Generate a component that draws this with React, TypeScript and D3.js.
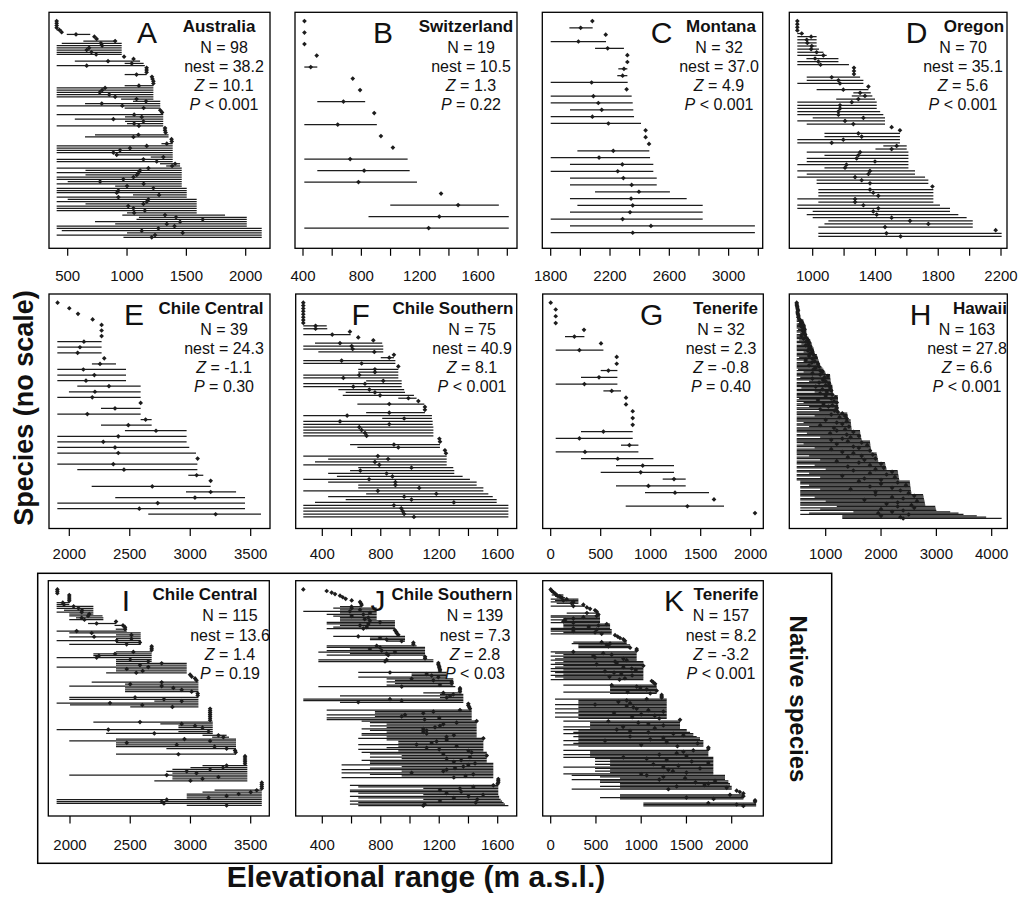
import React from 'react';
import * as d3 from 'd3';

// species elevational ranges, top row first: [min, max, mid] or [single elevation]
const australia = [
  [407], [407], [407], [407], [407, 449, 430], [449], [492, 690, 570], [725], [744], [632, 905, 900],
  [450, 955, 780], [407, 955, 790], [407, 955, 680], [407, 955, 660], [407, 955, 700], [407, 955, 740], [975], [1055], [560, 1110, 840], [980, 1140, 1040],
  [407, 1150, 660], [1165], [1165], [1165], [980, 1165, 1080], [1210], [1215], [1222], [1222], [980, 1222, 1100],
  [407, 1222, 815], [407, 1222, 790], [407, 1222, 770], [407, 1222, 850], [407, 1222, 900], [950, 1222, 1080], [1050, 1280, 1160], [646, 1280, 787], [407, 1280, 960], [980, 1280, 1140],
  [1280], [1295], [407, 1305, 1060], [983, 1305, 1124], [560, 1305, 885], [983, 1305, 1138], [1000, 1305, 1060], [407, 1305, 1100], [1320], [1320],
  [1325], [730, 1350, 1096], [646, 1350, 1054], [1375], [1377], [1290, 1385, 1335], [407, 1385, 1166], [407, 1385, 1025], [407, 1385, 941], [407, 1385, 885],
  [900, 1385, 913], [1200, 1385, 1306], [407, 1385, 1138], [407, 1385, 1250], [1278, 1447, 1405], [1330, 1447, 1380], [407, 1461, 1180], [650, 1461, 1110], [407, 1461, 1096], [650, 1461, 1082],
  [407, 1461, 1054], [407, 1461, 969], [500, 1461, 773], [407, 1461, 1140], [900, 1461, 1000], [407, 1503, 1222], [407, 1503, 927], [407, 1503, 913], [1050, 1503, 1270], [407, 1503, 927],
  [500, 1587, 1180], [407, 1587, 1166], [650, 1587, 1138], [407, 1587, 1010], [407, 1587, 1054], [407, 1587, 1150], [1000, 1587, 1060], [960, 1826, 1320], [1100, 2009, 1413], [1080, 2009, 1638],
  [730, 2009, 1447], [900, 2009, 1335], [407, 2009, 1400], [407, 2135, 1264], [450, 2135, 1124], [1000, 2135, 1469], [407, 2135, 1236], [970, 2135, 1208],
];

const switzerland = [
  [410], [410], [410], [494], [409, 498, 453], [741], [791], [498, 826, 677], [888], [409, 906, 638],
  [934], [1016], [409, 1117, 723], [498, 1131, 819], [409, 1181, 780], [1346], [998, 1742, 1463], [849, 1810, 1334], [409, 1810, 1261],
];

const montana = [
  [2081], [1926, 2083, 2002], [2171], [1800, 2173, 1987], [2099, 2294, 2184], [2317], [2317], [2256, 2317, 2294], [2249, 2317, 2285], [1800, 2319, 2076],
  [2312], [1800, 2346, 2088], [1800, 2353, 2121], [1930, 2357, 2144], [1800, 2362, 2081], [1800, 2409, 2189], [2440], [2440], [2463], [1980, 2465, 2222],
  [1800, 2470, 2126], [1930, 2492, 2283], [1800, 2492, 2252], [1930, 2515, 2290], [1930, 2515, 2346], [2099, 2604, 2395], [1930, 2717, 2342], [1980, 2825, 2353], [1930, 2825, 2335], [1800, 2825, 2285],
  [1930, 3177, 2476], [1800, 3177, 2353],
];

const oregon = [
  [902], [902], [902], [902], [902, 940, 930], [902, 1025, 990], [902, 1025, 962], [902, 1025, 966], [902, 1025, 994], [902, 1040, 990],
  [902, 1068, 1025], [902, 1089, 1068], [960, 1164, 1015], [902, 1164, 1036], [902, 1231, 1050], [1263], [1263], [1263], [962, 1302, 1121], [962, 1323, 1164],
  [902, 1323, 1174], [1355], [1025, 1355, 1195], [1259, 1370, 1302], [1249, 1380, 1333], [1150, 1397, 1291], [902, 1408, 1249], [902, 1408, 1174], [902, 1408, 1174], [902, 1430, 1164],
  [902, 1450, 1164], [1000, 1461, 1323], [902, 1461, 1206], [962, 1461, 1259], [1503], [1556], [1075, 1556, 1291], [1075, 1556, 1312], [902, 1556, 1195], [902, 1556, 1121],
  [1450, 1599, 1535], [1400, 1599, 1503], [962, 1610, 1302], [1075, 1610, 1291], [962, 1610, 1280], [962, 1610, 1397], [902, 1610, 1215], [1075, 1610, 1206], [902, 1652, 1365], [962, 1652, 1355],
  [902, 1716, 1270], [1025, 1737, 1312], [1025, 1737, 1365], [1763], [1036, 1769, 1365], [1036, 1769, 1386], [1036, 1769, 1418], [902, 1769, 1270], [1036, 1769, 1270], [902, 1811, 1323],
  [902, 1875, 1418], [1000, 1875, 1386], [962, 1928, 1408], [1000, 1981, 1503], [1100, 2020, 1620], [1075, 2020, 1737], [1036, 2020, 1461], [2166], [1036, 2204, 1470], [1036, 2204, 1560],
];

const chileCentral = [
  [1903], [2000], [2072], [2193], [2267], [2267], [2267], [1901, 2267, 2121], [1901, 2267, 2088], [1901, 2267, 2069],
  [2289], [2187, 2386, 2254], [1901, 2469, 2116], [1901, 2469, 2207], [1901, 2469, 2138], [2066, 2590, 2328], [1997, 2590, 2212], [1901, 2590, 2190], [2590], [2262, 2590, 2378],
  [1901, 2590, 2149], [2590, 2681, 2631], [2262, 2681, 2488], [2460, 2970, 2717], [1901, 2970, 2405], [1901, 2970, 2281], [1901, 2992, 2378], [1901, 3048, 2405], [3061], [1901, 3059, 2364],
  [2066, 3059, 2452], [2984, 3108, 3053], [3169], [2185, 3169, 2686], [2965, 3379, 3169], [2380, 3453, 3039], [1901, 3453, 2731], [1901, 3453, 2579], [2653, 3585, 3210],
];

const chileSouthern = [
  [270], [270], [270], [270], [270], [270], [270], [270], [270, 430, 354], [270, 434, 354],
  [589], [270, 594, 468], [646], [749], [350, 810, 521], [270, 817, 601], [270, 817, 608], [373, 817, 756], [890], [800, 890, 858],
  [270, 900, 532], [270, 900, 669], [920], [646, 920, 760], [646, 920, 760], [270, 920, 653], [270, 920, 544], [700, 943, 817], [270, 943, 692], [270, 943, 612],
  [510, 960, 722], [560, 966, 760], [540, 1027, 795], [920, 1045, 989], [1057], [640, 1098, 858], [1102], [1102], [700, 1102, 858], [270, 1150, 570],
  [810, 1150, 960], [270, 1155, 521], [270, 1155, 858], [270, 1160, 653], [270, 1160, 669], [270, 1160, 692], [270, 1160, 703], [1201], [1205], [590, 1205, 890],
  [640, 1205, 920], [1239], [1246], [270, 1251, 780], [440, 1251, 850], [350, 1251, 760], [270, 1251, 790], [646, 1296, 1010], [590, 1303, 660], [440, 1303, 840],
  [500, 1360, 880], [270, 1410, 720], [440, 1456, 900], [646, 1456, 900], [646, 1502, 1063], [270, 1502, 780], [700, 1536, 1180], [440, 1566, 960], [560, 1593, 1010], [350, 1593, 1300],
  [270, 1673, 890], [270, 1673, 940], [270, 1673, 950], [270, 1673, 960], [270, 1673, 1027],
];

const tenerife = [
  [0], [50], [50], [50], [333], [143, 337, 237], [503], [50, 527, 287], [660], [660],
  [500, 667, 577], [303, 667, 483], [50, 667, 337], [527, 703, 610], [753], [753], [820], [820], [820], [303, 820, 527],
  [50, 820, 287], [703, 877, 787], [50, 877, 343], [303, 1027, 670], [653, 1233, 920], [500, 1233, 900], [1120, 1350, 1233], [653, 1350, 977], [943, 1583, 1243], [1633],
  [750, 1733, 1367], [2043],
];

const hawaii = [
  [476], [476], [480], [485], [488], [495], [500], [476, 505, 490], [476, 510, 495], [476, 515, 500], [500, 520, 510], [476, 530, 505], [490, 540, 520],
  [476, 596, 530], [476, 600, 560], [520, 610, 570], [476, 620, 540], [476, 630, 600],
  [476, 640, 560], [476, 640, 600], [500, 645, 620], [476, 650, 580], [476, 650, 610], [540, 655, 600], [476, 660, 630], [476, 660, 560],
  [476, 690, 640], [476, 700, 600], [520, 720, 680], [476, 730, 650], [476, 740, 700], [560, 750, 690], [476, 755, 640], [476, 760, 720],
  [476, 780, 700], [476, 785, 740], [476, 790, 680], [600, 795, 760], [476, 800, 720],
  [476, 840, 780], [476, 845, 700], [520, 850, 820], [476, 860, 760], [476, 870, 640], [600, 880, 800], [476, 885, 750], [476, 895, 860], [476, 900, 700],
  [476, 920, 880], [476, 940, 820], [500, 960, 780], [476, 975, 900], [600, 990, 940], [476, 1000, 760],
  [476, 1078, 900], [476, 1080, 1040], [540, 1082, 980], [476, 1085, 760], [476, 1088, 950], [700, 1090, 1000], [476, 1095, 880], [476, 1100, 1060],
  [476, 1120, 1000], [476, 1122, 820], [560, 1125, 1080], [476, 1128, 940], [476, 1130, 1100], [800, 1132, 1020], [476, 1135, 900], [476, 1140, 1120],
  [476, 1220, 1000], [476, 1220, 1180], [520, 1222, 1100], [476, 1222, 860], [476, 1224, 1150], [600, 1224, 1200], [476, 1225, 960], [476, 1226, 1120], [700, 1226, 1050], [476, 1228, 1200], [476, 1228, 900], [900, 1230, 1160], [476, 1230, 1220],
  [476, 1390, 1300], [476, 1395, 1100], [800, 1400, 1350], [476, 1400, 1250], [476, 1405, 1380],
  [476, 1450, 1000], [476, 1452, 1380], [600, 1455, 1200], [476, 1458, 1300], [476, 1460, 900], [700, 1462, 1420], [476, 1465, 1150], [476, 1470, 1350],
  [476, 1620, 1200], [476, 1622, 1500], [660, 1625, 1080], [476, 1630, 1380], [476, 1635, 1600], [900, 1640, 1450], [476, 1645, 1300], [476, 1650, 1100],
  [476, 1800, 1400], [476, 1802, 1650], [600, 1805, 1200], [476, 1808, 1750], [476, 1810, 1500], [800, 1815, 1600], [476, 1820, 1100], [476, 1825, 1800], [476, 1830, 1300],
  [476, 1920, 1500], [476, 1925, 1850], [700, 1930, 1650], [476, 1935, 1400], [476, 1940, 1900], [900, 1945, 1700], [476, 1950, 1200],
  [476, 2070, 1600], [476, 2075, 2000], [800, 2080, 1800], [476, 2088, 1400], [476, 2095, 2050], [1000, 2100, 1900],
  [476, 2300, 1500], [476, 2305, 2200], [700, 2308, 1800], [476, 2312, 2100], [476, 2316, 1300], [900, 2320, 2250], [476, 2325, 1700], [476, 2330, 2000],
  [540, 2520, 1600], [540, 2522, 2300], [540, 2525, 2000], [700, 2528, 2450], [540, 2530, 1800], [540, 2535, 2200], [900, 2538, 1450], [540, 2540, 2350], [540, 2545, 1900], [540, 2550, 2500],
  [540, 2760, 1900], [540, 2765, 2600], [800, 2770, 2200], [540, 2775, 2400], [540, 2780, 1700], [1000, 2785, 2650], [540, 2790, 2300], [540, 2795, 2100], [540, 2800, 2550],
  [1200, 2980, 2300], [540, 2985, 2600], [900, 2990, 2000], [540, 3000, 2400],
  [1500, 3250, 2200], [700, 3400, 1950], [540, 3490, 2500],
  [1300, 3730, 2000], [1300, 3900, 2350], [1300, 4180, 2400],
];

const nativeChileCentral = [
  [1895], [1895], [1895], [1994], [1994], [1994], [1994], [1889, 1994, 1940], [1889, 1994, 1950], [1889, 2194, 2030],
  [1889, 2194, 2070], [1950, 2194, 2100], [1889, 2194, 2097], [1994, 2194, 2160], [1994, 2270, 2150], [2050, 2277, 2097], [1994, 2277, 2120], [2382], [2150, 2382, 2221], [2370, 2460, 2440],
  [2457], [2380, 2471, 2457], [1889, 2471, 2055], [1994, 2587, 2180], [2382, 2587, 2510], [1994, 2587, 2200], [2382, 2587, 2510], [1889, 2587, 2388], [2382, 2587, 2580], [1994, 2587, 2470],
  [2678], [2678], [2678], [2382, 2678, 2526], [2194, 2678, 2374], [2194, 2678, 2240], [1889, 2678, 2221], [2382, 2678, 2500], [2382, 2678, 2650], [2382, 2969, 2761],
  [2382, 2969, 2581], [1889, 2969, 2650], [2382, 2969, 2471], [2382, 2969, 2603], [2300, 2969, 2550], [2997], [3010], [3038], [3050], [2180, 3066, 2761],
  [2457, 3066, 2500], [1994, 3066, 2761], [2457, 3066, 2858], [2457, 3066, 2927], [2457, 3066, 3010], [3060], [3060], [1994, 3066, 2540], [1994, 3066, 2780], [2700, 3066, 2927],
  [1889, 3066, 2332], [2000, 3066, 2600], [2500, 3066, 2850], [3163], [3163], [3163], [3163], [3163], [3163], [3163],
  [2194, 3185, 2581], [2750, 3185, 2927], [2900, 3185, 3038], [2900, 3185, 3100], [1889, 3185, 2318], [2900, 3185, 3150], [2300, 3185, 2700], [3100, 3300, 3232], [3180, 3320, 3273], [2382, 3378, 2950],
  [1994, 3378, 3163], [2382, 3378, 2471], [2382, 3378, 2886], [2382, 3378, 3200], [2800, 3378, 3300], [3370], [3375], [2382, 3378, 2900], [3453], [3453],
  [3453], [3453], [3453], [3100, 3472, 3300], [3000, 3472, 3270], [2850, 3472, 3163], [2800, 3472, 2969], [2850, 3472, 3050], [1994, 3472, 2803], [2850, 3472, 3232],
  [2850, 3472, 3100], [2700, 3472, 3000], [3592], [3592], [3592], [3592], [3200, 3592, 3550], [3100, 3592, 3500], [2969, 3592, 3400], [2969, 3592, 3300],
  [2969, 3592, 3150], [1889, 3592, 2803], [1889, 3592, 2761], [1889, 3592, 2780], [2969, 3592, 3300],
];

const nativeChileSouthern = [
  [270], [430], [464], [487], [521], [540], [560], [601], [658], [665],
  [669], [521, 669, 600], [475, 772, 601], [521, 772, 658], [270, 772, 589], [521, 772, 726], [430, 772, 681], [475, 772, 601], [521, 772, 715], [521, 772, 690],
  [521, 897, 726], [430, 897, 795], [430, 897, 715], [521, 897, 658], [475, 897, 704], [430, 897, 681], [897], [905], [910], [920],
  [475, 966, 646], [726, 966, 795], [726, 966, 840], [840, 966, 943], [1023], [1023], [430, 1045, 772], [430, 1103, 795], [589, 1103, 726], [430, 1103, 806],
  [373, 1103, 897], [589, 1103, 840], [430, 1103, 851], [1103], [1103], [373, 1160, 840], [373, 1160, 829], [1194], [1194], [1200],
  [1200], [1205], [1205], [646, 1251, 863], [1011, 1251, 1114], [1011, 1251, 1148], [646, 1251, 1194], [840, 1296, 1011], [897, 1296, 1160], [840, 1296, 1285],
  [897, 1296, 1285], [840, 1296, 1205], [373, 1310, 943], [1342], [1342], [1342], [1091, 1353, 1228], [1205, 1365, 1296], [521, 1365, 1274], [1205, 1365, 1251],
  [270, 1365, 863], [270, 1365, 943], [521, 1365, 646], [1399], [1399], [1405], [1410], [430, 1422, 1342], [760, 1422, 1160], [760, 1422, 1091],
  [430, 1422, 966], [760, 1422, 943], [430, 1422, 1200], [430, 1422, 1100], [669, 1456, 1456], [726, 1456, 1319], [840, 1456, 1228], [726, 1456, 1205], [840, 1456, 1171], [669, 1456, 1091],
  [726, 1456, 1114], [840, 1456, 1091], [669, 1456, 1114], [669, 1456, 1300], [840, 1456, 1250], [646, 1502, 1502], [840, 1502, 1251], [920, 1502, 1182], [920, 1502, 1148], [646, 1502, 1045],
  [920, 1502, 1319], [840, 1502, 1114], [646, 1502, 1200], [920, 1502, 1400], [669, 1525, 1422], [726, 1525, 1228], [943, 1525, 1525], [726, 1525, 1410], [943, 1525, 1251], [669, 1525, 1350],
  [726, 1525, 1300], [726, 1570, 1445], [532, 1570, 1399], [943, 1570, 1365], [726, 1570, 1308], [532, 1570, 1251], [943, 1570, 1228], [532, 1570, 1011], [726, 1570, 1433], [943, 1570, 1380],
  [532, 1570, 1300], [1604], [1604], [1604], [1600], [589, 1604, 1570], [646, 1604, 1433], [1091, 1604, 1342], [589, 1604, 1205], [589, 1604, 1350],
  [646, 1604, 1250], [1091, 1604, 1500], [589, 1610, 1400], [646, 1610, 1300], [1091, 1620, 1460], [589, 1630, 1205], [646, 1640, 1450], [589, 1650, 1100], [646, 1673, 1091],
];

const nativeTenerife = [
  [0], [11], [30], [48], [11, 140, 66], [48, 140, 100], [66, 160, 120], [0, 306, 177], [48, 306, 140], [0, 306, 250],
  [66, 306, 232], [361], [0, 380, 250], [400], [435], [490], [508], [177, 527, 400], [527], [0, 545, 508],
  [0, 545, 361], [140, 545, 250], [0, 545, 160], [140, 545, 140], [0, 545, 250], [140, 656, 619], [140, 656, 527], [140, 656, 420], [0, 656, 250], [0, 674, 508],
  [0, 674, 250], [140, 674, 490], [0, 674, 563], [711], [740], [766], [803], [820], [250, 840, 563], [232, 840, 656],
  [306, 877, 619], [306, 877, 637], [306, 877, 877], [950], [950], [0, 950, 250], [48, 950, 580], [140, 950, 674], [0, 950, 470], [140, 950, 490],
  [48, 950, 803], [0, 950, 840], [140, 1024, 711], [48, 1024, 730], [0, 1024, 508], [140, 1024, 1024], [48, 1024, 803], [0, 1024, 895], [140, 1024, 940], [0, 1024, 600],
  [48, 1024, 700], [140, 1024, 780], [0, 1024, 900], [48, 1024, 650], [140, 1024, 820], [0, 1024, 760], [1116], [1135], [1153], [140, 1171, 674],
  [656, 1171, 950], [656, 1171, 990], [656, 1171, 1061], [656, 1171, 1171], [140, 1171, 850], [656, 1171, 1100], [1226], [1226], [1226], [48, 1282, 1061],
  [306, 1282, 840], [306, 1282, 748], [306, 1282, 877], [48, 1282, 490], [306, 1282, 840], [306, 1282, 913], [48, 1282, 950], [306, 1282, 1079], [306, 1282, 1245], [48, 1282, 700],
  [306, 1282, 1000], [306, 1282, 1150], [48, 1282, 900], [306, 1282, 1200], [1429], [140, 1429, 637], [435, 1429, 968], [435, 1429, 1079], [435, 1429, 1245], [140, 1429, 800],
  [435, 1429, 1150], [140, 1503, 730], [306, 1503, 877], [250, 1540, 1079], [140, 1576, 1355], [306, 1576, 1466], [250, 1613, 877], [306, 1650, 1245], [306, 1650, 1100], [140, 1687, 600],
  [306, 1687, 1282], [250, 1687, 1623], [140, 1687, 1000], [306, 1687, 1400], [1742], [1742], [140, 1742, 1576], [435, 1742, 1466], [435, 1742, 1392], [140, 1742, 1200],
  [435, 1742, 1500], [140, 1797, 803], [490, 1797, 1061], [656, 1797, 1282], [490, 1797, 1558], [656, 1797, 1742], [490, 1797, 1134], [656, 1797, 1411], [140, 1797, 1245], [490, 1797, 1650],
  [656, 1797, 1300], [490, 1797, 1350], [656, 1797, 1500], [140, 1797, 1000], [232, 1926, 1061], [545, 1926, 1245], [766, 1926, 1485], [232, 1926, 1200], [545, 1963, 1816], [545, 1963, 1600],
  [766, 1981, 1742], [766, 1981, 1700], [545, 2000, 1392], [766, 2000, 1945], [232, 2000, 1300], [2055], [2090], [2129], [766, 2129, 1981], [766, 2129, 2129],
  [545, 2129, 1500], [766, 2129, 1800], [2258], [2258], [1024, 2270, 1742], [1024, 2270, 2055], [1024, 2270, 2129],
];

// axis ticks per panel, and which of them carry a label
const ticksA = [500, 1000, 1500, 2000];
const ticksB = [400, 600, 800, 1000, 1200, 1400, 1600, 1800];
const labelsB = [400, 800, 1200, 1600];
const ticksC = [1800, 2000, 2200, 2400, 2600, 2800, 3000, 3200];
const labelsC = [1800, 2200, 2600, 3000];
const ticksD = [1000, 1200, 1400, 1600, 1800, 2000, 2200];
const labelsD = [1000, 1400, 1800, 2200];
const ticksE = [2000, 2500, 3000, 3500];
const ticksF = [400, 600, 800, 1000, 1200, 1400, 1600];
const labelsF = [400, 800, 1200, 1600];
const ticksG = [0, 500, 1000, 1500, 2000];
const ticksH = [1000, 2000, 3000, 4000];

const panels = [
  { id: 'A', title: 'Australia', n: 98, nest: '38.2', z: '10.1', p: '< 0.001', rows: australia, box: [49, 270, 12.3, 248.3], cal: [500, 67.7, 2000, 245.7], ticks: ticksA, labels: ticksA, lx: 147, tx: 219, sx: 224, ly: 33 },
  { id: 'B', title: 'Switzerland', n: 19, nest: '10.5', z: '1.3', p: '= 0.22', rows: switzerland, box: [295, 517, 12.3, 248.3], cal: [400, 303, 1800, 507.3], ticks: ticksB, labels: labelsB, lx: 383, tx: 466, sx: 471, ly: 33 },
  { id: 'C', title: 'Montana', n: 32, nest: '37.0', z: '4.9', p: '< 0.001', rows: montana, box: [542.3, 762.7, 12.3, 248.3], cal: [1800, 550.7, 3200, 758.3], ticks: ticksC, labels: labelsC, lx: 661.7, tx: 721, sx: 719, ly: 33 },
  { id: 'D', title: 'Oregon', n: 70, nest: '35.1', z: '5.6', p: '< 0.001', rows: oregon, box: [789.3, 1007, 12.3, 248.3], cal: [1000, 812.7, 2200, 1001], ticks: ticksD, labels: labelsD, lx: 916.7, tx: 974, sx: 963, ly: 33 },
  { id: 'E', title: 'Chile Central', n: 39, nest: '24.3', z: '-1.1', p: '= 0.30', rows: chileCentral, box: [49, 270, 294, 528.5], cal: [2000, 69.3, 3500, 250.7], ticks: ticksE, labels: ticksE, lx: 134, tx: 211, sx: 224, ly: 30 },
  { id: 'F', title: 'Chile Southern', n: 75, nest: '40.9', z: '8.1', p: '< 0.001', rows: chileSouthern, box: [295.7, 516.7, 294, 528.5], cal: [400, 322.3, 1600, 497.7], ticks: ticksF, labels: labelsF, lx: 360.7, tx: 453, sx: 472, ly: 30 },
  { id: 'G', title: 'Tenerife', n: 32, nest: '2.3', z: '-0.8', p: '= 0.40', rows: tenerife, box: [542.7, 763.3, 294, 528.5], cal: [0, 550.7, 2000, 750.7], ticks: ticksG, labels: ticksG, lx: 651.7, tx: 725.5, sx: 721, ly: 30 },
  { id: 'H', title: 'Hawaii', n: 163, nest: '27.8', z: '6.6', p: '< 0.001', rows: hawaii, box: [789.3, 1007.3, 294, 528.5], cal: [1000, 825.7, 4000, 991.7], ticks: ticksH, labels: ticksH, lx: 920.7, tx: 980, sx: 967, ly: 30 },
  { id: 'I', title: 'Chile Central', n: 115, nest: '13.6', z: '1.4', p: '= 0.19', rows: nativeChileCentral, box: [48.3, 269.3, 580.7, 816], cal: [2000, 70, 3500, 250.7], ticks: ticksE, labels: ticksE, lx: 126, tx: 205, sx: 230, ly: 34 },
  { id: 'J', title: 'Chile Southern', n: 139, nest: '7.3', z: '2.8', p: '< 0.03', rows: nativeChileSouthern, box: [295.7, 516.7, 580.7, 816], cal: [400, 322.3, 1600, 497.7], ticks: ticksF, labels: labelsF, lx: 378, tx: 452, sx: 475, ly: 34 },
  { id: 'K', title: 'Tenerife', n: 157, nest: '8.2', z: '-3.2', p: '< 0.001', rows: nativeTenerife, box: [542.7, 763.3, 580.7, 816], cal: [0, 550.7, 2000, 731.7], ticks: ticksG, labels: ticksG, lx: 674, tx: 726, sx: 721, ly: 34 },
];

const FONT = '"Liberation Sans", Arial, Helvetica, sans-serif';
const INK = '#1c1c1c';
const dot = d3.symbol(d3.symbolSquare, 11)();

function Panel({ d }: { d: any }) {
  const [left, right, top, bottom] = d.box;
  const x = d3.scaleLinear().domain([d.cal[0], d.cal[2]]).range([d.cal[1], d.cal[3]]);
  const n = d.rows.length;
  const y = d3.scaleLinear().domain([-0.04 * n, 1.04 * n]).range([bottom, top]);
  return (
    <g>
      {d.rows.map((r: number[], i: number) => {
        const yy = y(n - i);
        const mid = r.length === 1 ? r[0] : r[2];
        return (
          <g key={i}>
            {r.length > 1 && (
              <line x1={x(r[0])} x2={x(r[1])} y1={yy} y2={yy} stroke={INK} strokeWidth={1.25} />
            )}
            <path d={dot!} transform={`translate(${x(mid)},${yy}) rotate(45)`} fill={INK} />
          </g>
        );
      })}
      <rect x={left} y={top} width={right - left} height={bottom - top} fill="none" stroke="#000" strokeWidth={1.3} />
      {d.ticks.map((t: number) => (
        <line key={t} x1={x(t)} x2={x(t)} y1={bottom} y2={bottom + 7.5} stroke="#000" strokeWidth={1.2} />
      ))}
      {d.labels.map((t: number) => (
        <text key={'l' + t} x={x(t)} y={bottom + d.ly} textAnchor="middle" fontSize={15} fill="#111">{String(t)}</text>
      ))}
      <text x={d.lx} y={top + 30.5} textAnchor="middle" fontSize={30} fill="#111">{d.id}</text>
      <text x={d.tx} y={top + 19.5} textAnchor="middle" fontSize={17} fontWeight="bold" fill="#111">{d.title}</text>
      <text x={d.sx} y={top + 40.5} textAnchor="middle" fontSize={16} fill="#111">{'N = ' + d.n}</text>
      <text x={d.sx} y={top + 60} textAnchor="middle" fontSize={16} fill="#111">{'nest = ' + d.nest}</text>
      <text x={d.sx} y={top + 79} textAnchor="middle" fontSize={16} fill="#111"><tspan fontStyle="italic">Z</tspan>{' = ' + d.z}</text>
      <text x={d.sx} y={top + 98} textAnchor="middle" fontSize={16} fill="#111"><tspan fontStyle="italic">P</tspan>{' ' + d.p}</text>
    </g>
  );
}

export default function App() {
  return (
    <svg width={1018} height={897} style={{ position: 'absolute', left: 0, top: 0, background: '#fff' }} fontFamily={FONT}>
      <rect x={37.7} y={573.3} width={794} height={290} fill="none" stroke="#000" strokeWidth={1.5} />
      {panels.map((p) => (
        <Panel key={p.id} d={p} />
      ))}
      <text transform="translate(33,408) rotate(-90)" textAnchor="middle" fontSize={27} fontWeight="bold" fill="#111">Species (no scale)</text>
      <text transform="translate(790,699) rotate(90)" textAnchor="middle" fontSize={24} fontWeight="bold" fill="#111">Native species</text>
      <text x={416} y={887} textAnchor="middle" fontSize={30} fontWeight="bold" fill="#111">Elevational range (m a.s.l.)</text>
    </svg>
  );
}
